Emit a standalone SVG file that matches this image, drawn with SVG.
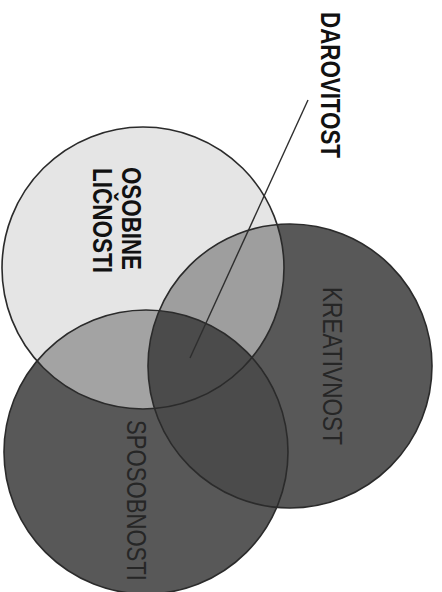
<svg xmlns="http://www.w3.org/2000/svg" width="442" height="592" viewBox="0 0 442 592">
  <style>
    .edge { fill: none; stroke: #2b2b2b; stroke-width: 1.6; }
    .lbl-b { font-family: "Liberation Sans", Arial, sans-serif; font-weight: bold; font-size: 28px; fill: #111; }
    .lbl-d { font-family: "Liberation Sans", Arial, sans-serif; font-size: 28px; fill: #262626; }
    .conn { stroke: #2e2e2e; stroke-width: 1.4; fill: none; }
  </style>
  <defs>
    <clipPath id="clipTop"><circle cx="143" cy="268" r="141"/></clipPath>
    <clipPath id="clipRight"><circle cx="290" cy="366" r="142"/></clipPath>
  </defs>
  <rect width="442" height="592" fill="#ffffff"/>

  <g id="fills">
    <circle cx="143" cy="268" r="141" fill="#e5e5e5"/>
    <circle cx="290" cy="366" r="142" fill="#585858"/>
    <circle cx="146" cy="452" r="142" fill="#585858"/>
    <circle cx="290" cy="366" r="142" fill="#9e9e9e" clip-path="url(#clipTop)"/>
    <circle cx="146" cy="452" r="142" fill="#a3a3a3" clip-path="url(#clipTop)"/>
    <circle cx="146" cy="452" r="142" fill="#4b4b4b" clip-path="url(#clipRight)"/>
  </g>

  <g id="osobine-licnosti">
    <circle class="edge" cx="143" cy="268" r="141"/>
    <text class="lbl-b" transform="translate(122,167) rotate(90)" textLength="103" lengthAdjust="spacingAndGlyphs">OSOBINE</text>
    <text class="lbl-b" transform="translate(93,168) rotate(90)" textLength="105" lengthAdjust="spacingAndGlyphs">LIČNOSTI</text>
  </g>

  <g id="kreativnost">
    <circle class="edge" cx="290" cy="366" r="142"/>
    <text class="lbl-d" transform="translate(323,287) rotate(90)" textLength="158" lengthAdjust="spacingAndGlyphs">KREATIVNOST</text>
  </g>

  <g id="sposobnosti">
    <circle class="edge" cx="146" cy="452" r="142"/>
    <text class="lbl-d" transform="translate(127,420) rotate(90) scale(1,1.2)" style="font-size:23px" textLength="161" lengthAdjust="spacingAndGlyphs">SPOSOBNOSTI</text>
  </g>

  <g id="darovitost">
    <text class="lbl-b" transform="translate(321,12) rotate(90)" textLength="146" lengthAdjust="spacingAndGlyphs">DAROVITOST</text>
  </g>

  <g id="connectors">
    <line class="conn" x1="308" y1="100" x2="190" y2="358"/>
  </g>
</svg>
